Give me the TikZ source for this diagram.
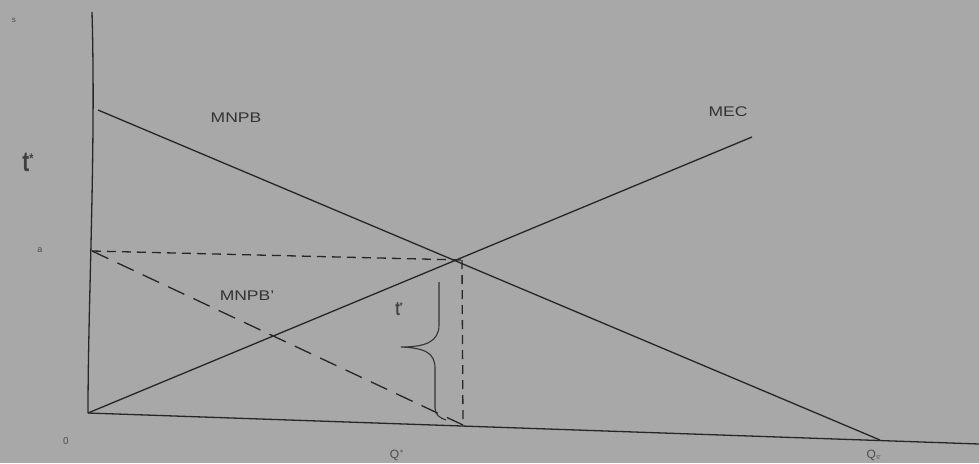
\documentclass[tikz,border=0pt]{standalone}
\usepackage{fontspec}
\setmainfont{Liberation Sans}
\begin{document}
\begin{tikzpicture}[x=1pt,y=-1pt,
  curve/.style={line width=1.3pt,draw=black!85},
  dsh/.style={line width=1.3pt,draw=black!85,dash pattern=on 9pt off 6pt},
  ldsh/.style={line width=1.3pt,draw=black!85,dash pattern=on 18pt off 10pt},
  lbl/.style={font=\fontsize{14}{15}\selectfont,text=black!80,inner sep=0pt,xscale=1.25},
  tick/.style={font=\fontsize{10}{11}\selectfont,text=black!70,inner sep=0pt}]
\fill[black!34] (0,0) rectangle (979,463);
\useasboundingbox (0,0) rectangle (979,463);
% coordinates
\coordinate (ytop) at (92,12);
\coordinate (o) at (88,413);
\coordinate (xend) at (979,444);
\coordinate (mnpbA) at (98,110);
\coordinate (qpi) at (880,440);
\coordinate (mecB) at (752,137);
\coordinate (e) at (462,260);
\coordinate (ya) at (92,251);
\coordinate (qs) at (463,425);
% axes
\draw[curve] (ytop) .. controls (96,150) and (88,300) .. (o);
\draw[curve] (o) -- (xend);
% curves
\draw[curve] (mnpbA) -- (qpi);
\draw[curve] (o) -- (mecB);
\draw[dsh] (ya) -- (e);
\draw[dsh] (e) -- (qs);
\draw[ldsh] (ya) -- (qs);
% brace
\coordinate (b1) at (439,282);
\coordinate (btip) at (401,347);
\coordinate (b2) at (446,420);
\draw[line width=1.1pt,draw=black!80] (b1) -- (439,325) .. controls (439,342) and (425,347) .. (btip)
  .. controls (425,348) and (435,353) .. (435,368) -- (435,408) .. controls (435,415) and (440,418) .. (b2);
% labels
\node[font=\fontsize{8}{8}\selectfont,text=black!70,inner sep=0pt] (s) at (14,20) {s};
\node[font=\fontsize{28}{28}\selectfont\bfseries,text=black!75,inner sep=0pt,xscale=0.75] (tstar) at (28,162) {t\raisebox{8pt}{\fontsize{14}{14}\selectfont *}};
\node[font=\fontsize{9}{9}\selectfont,text=black!70,inner sep=0pt] (a) at (40,250) {a};
\node[lbl] (lmnpb) at (236,118) {MNPB};
\node[lbl] (lmec) at (728,112) {MEC};
\node[lbl] (lmnpb2) at (247,296) {MNPB'};
\node[font=\fontsize{20}{20}\selectfont\bfseries,text=black!75,inner sep=0pt,xscale=0.7] (t2) at (399,309) {t\raisebox{6pt}{\fontsize{10}{10}\selectfont *}};
\node[tick] (zero) at (66,441) {0};
\node[tick,font=\fontsize{12}{12}\selectfont] (lqs) at (397,455) {Q$^*$};
\node[tick,font=\fontsize{12}{12}\selectfont] (lqpi) at (874,455) {Q$_\pi$};
\end{tikzpicture}
\end{document}
